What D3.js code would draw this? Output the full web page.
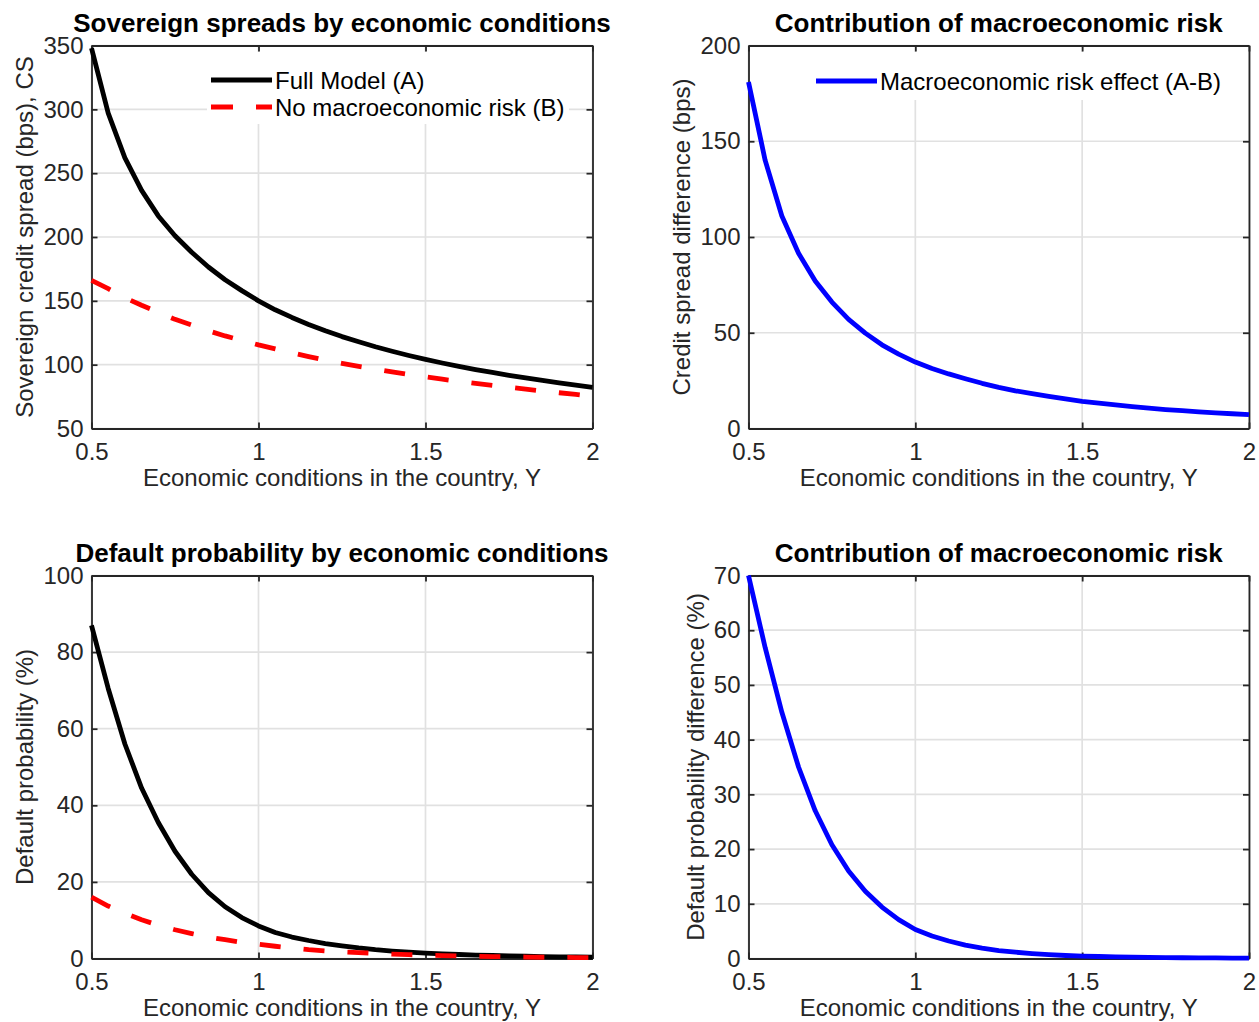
<!DOCTYPE html>
<html>
<head>
<meta charset="utf-8">
<script src="https://cdn.jsdelivr.net/npm/d3@7"></script>
<style>
  html, body { margin: 0; padding: 0; background: #ffffff; }
  svg { display: block; }
  text { font-family: "Liberation Sans", Arial, Helvetica, sans-serif; }
</style>
</head>
<body>
<svg id="chart" width="1259" height="1022"></svg>
<script>
// ---------------- DATA ----------------
const econConditions = [0.50, 0.55, 0.60, 0.65, 0.70, 0.75, 0.80, 0.85, 0.90, 0.95,
                        1.00, 1.05, 1.10, 1.15, 1.20, 1.25, 1.30, 1.35, 1.40, 1.45,
                        1.50, 1.55, 1.60, 1.65, 1.70, 1.75, 1.80, 1.85, 1.90, 1.95, 2.00];

// Sovereign credit spread (bps)
const spreadFullModel = [348, 297, 262, 236.5, 216.5, 201, 188, 176.5, 166.5, 158,
                         150, 143, 137, 131.5, 126.5, 122, 118, 114, 110.5, 107.2,
                         104.2, 101.3, 98.7, 96.2, 93.9, 91.7, 89.6, 87.6, 85.7, 83.9, 82.2];
const spreadNoMacroRisk = [166, 159.5, 152.5, 146.5, 141, 135.5, 131, 126.5, 122.5, 119,
                           115.5, 112.4, 109.3, 106.3, 103.5, 101, 98.6, 96.4, 94.3, 92.3,
                           90.4, 88.6, 86.9, 85.3, 83.8, 82.3, 80.8, 79.4, 78, 76.7, 75.3];
const spreadMacroEffect = [181, 140, 111, 91.5, 77, 66, 57, 49.8, 43.7, 38.8,
                           34.7, 31.3, 28.5, 26, 23.6, 21.5, 19.7, 18.2, 16.8, 15.5,
                           14.2, 13.2, 12.3, 11.4, 10.6, 9.9, 9.3, 8.7, 8.2, 7.7, 7.2];

// Default probability (%)
const pdFullModel = [87, 70.5, 56, 44.5, 35.5, 28, 22, 17.2, 13.5, 10.7,
                     8.5, 6.8, 5.6, 4.7, 3.9, 3.3, 2.75, 2.3, 1.95, 1.65,
                     1.4, 1.2, 1.05, 0.9, 0.8, 0.7, 0.6, 0.5, 0.45, 0.4, 0.35];
const pdNoMacroRisk = [16, 13.7, 11.8, 10.1, 8.7, 7.5, 6.5, 5.6, 4.9, 4.2,
                       3.7, 3.2, 2.75, 2.3, 2.0, 1.75, 1.55, 1.35, 1.15, 1.0,
                       0.88, 0.77, 0.67, 0.58, 0.5, 0.44, 0.38, 0.33, 0.29, 0.25, 0.22];
const pdMacroEffect = [70, 56.8, 45, 35, 27, 20.8, 16, 12.3, 9.4, 7.1,
                       5.3, 4.1, 3.2, 2.45, 1.9, 1.45, 1.15, 0.9, 0.7, 0.55,
                       0.45, 0.37, 0.3, 0.25, 0.2, 0.17, 0.14, 0.12, 0.1, 0.08, 0.07];

// Ticks
const xTicks = [0.5, 1, 1.5, 2];
const spreadTicks = [50, 100, 150, 200, 250, 300, 350];
const spreadDiffTicks = [0, 50, 100, 150, 200];
const pdTicks = [0, 20, 40, 60, 80, 100];
const pdDiffTicks = [0, 10, 20, 30, 40, 50, 60, 70];

// Texts
const panelTitles = ["Sovereign spreads by economic conditions",
                     "Contribution of macroeconomic risk",
                     "Default probability by economic conditions",
                     "Contribution of macroeconomic risk"];
const yLabels = ["Sovereign credit spread (bps), CS",
                 "Credit spread difference (bps)",
                 "Default probability (%)",
                 "Default probability difference (%)"];
const xLabel = "Economic conditions in the country, Y";
const legendFull = "Full Model (A)";
const legendNoMacro = "No macroeconomic risk (B)";
const legendEffect = "Macroeconomic risk effect (A-B)";

// ---------------- STYLE / LAYOUT ----------------
const AX = "#262626";
const GRID = "#e1e1e1";
const FS = 24;
const TITLE_FS = 26;
const LW = 4.8;

const cols = [{l: 91.5, r: 592.5}, {l: 748.5, r: 1249}];
const rows = [{t: 45.5, b: 428.5}, {t: 575.5, b: 958.5}];

const svg = d3.select("#chart");
svg.append("rect").attr("width", 1259).attr("height", 1022).attr("fill", "#fff");

const panels = [
  { col: 0, row: 0, yDomain: [50, 350], yTicks: spreadTicks, title: panelTitles[0], ylabel: yLabels[0], ylabelX: 33,
    series: [ {data: spreadFullModel, color: "#000000", dash: null},
              {data: spreadNoMacroRisk, color: "#ff0000", dash: "21,23"} ],
    legend: { box: [207, 52, 569, 124], items: [
      {label: legendFull, color: "#000000", dash: null, y: 80},
      {label: legendNoMacro, color: "#ff0000", dash: "22,23", y: 107}], lx0: 211, lx1: 272, tx: 275 } },
  { col: 1, row: 0, yDomain: [0, 200], yTicks: spreadDiffTicks, title: panelTitles[1], ylabel: yLabels[1], ylabelX: 690,
    series: [ {data: spreadMacroEffect, color: "#0000ff", dash: null} ],
    legend: { box: [810, 52, 1232, 100], items: [
      {label: legendEffect, color: "#0000ff", dash: null, y: 81}], lx0: 816, lx1: 877, tx: 880 } },
  { col: 0, row: 1, yDomain: [0, 100], yTicks: pdTicks, title: panelTitles[2], ylabel: yLabels[2], ylabelX: 33,
    series: [ {data: pdFullModel, color: "#000000", dash: null},
              {data: pdNoMacroRisk, color: "#ff0000", dash: "21,23"} ], legend: null },
  { col: 1, row: 1, yDomain: [0, 70], yTicks: pdDiffTicks, title: panelTitles[3], ylabel: yLabels[3], ylabelX: 704,
    series: [ {data: pdMacroEffect, color: "#0000ff", dash: null} ], legend: null }
];

panels.forEach(p => {
  const c = cols[p.col], r = rows[p.row];
  const x = d3.scaleLinear().domain([0.5, 2]).range([c.l, c.r]);
  const y = d3.scaleLinear().domain(p.yDomain).range([r.b, r.t]);
  const g = svg.append("g");

  // grid
  g.append("g").selectAll("line").data(xTicks).join("line")
    .attr("x1", d => x(d)).attr("x2", d => x(d)).attr("y1", r.t).attr("y2", r.b)
    .attr("stroke", GRID).attr("stroke-width", 1.7);
  g.append("g").selectAll("line").data(p.yTicks).join("line")
    .attr("x1", c.l).attr("x2", c.r).attr("y1", d => y(d)).attr("y2", d => y(d))
    .attr("stroke", GRID).attr("stroke-width", 1.7);

  // axes
  const styleAxis = sel => {
    sel.select(".domain").attr("stroke", AX).attr("stroke-width", 1.8);
    sel.selectAll(".tick line").attr("stroke", AX).attr("stroke-width", 1.8);
    sel.selectAll(".tick text").attr("fill", AX).attr("font-size", FS)
      .attr("font-family", '"Liberation Sans", Arial, sans-serif');
  };
  g.append("g").attr("transform", `translate(0,${r.b})`)
    .call(d3.axisBottom(x).tickValues(xTicks).tickFormat(d3.format("")).tickSizeInner(-6).tickSizeOuter(0).tickPadding(14))
    .call(styleAxis);
  g.append("g").attr("transform", `translate(0,${r.t})`)
    .call(d3.axisTop(x).tickValues(xTicks).tickFormat("").tickSizeInner(-6).tickSizeOuter(0))
    .call(styleAxis);
  g.append("g").attr("transform", `translate(${c.l},0)`)
    .call(d3.axisLeft(y).tickValues(p.yTicks).tickFormat(d3.format("")).tickSizeInner(-6).tickSizeOuter(0).tickPadding(8))
    .call(styleAxis);
  g.append("g").attr("transform", `translate(${c.r},0)`)
    .call(d3.axisRight(y).tickValues(p.yTicks).tickFormat("").tickSizeInner(-6).tickSizeOuter(0))
    .call(styleAxis);

  // series
  const line = d3.line().x((d, i) => x(econConditions[i])).y(d => y(d));
  p.series.forEach(s => {
    g.append("path").datum(s.data).attr("d", line)
      .attr("fill", "none").attr("stroke", s.color).attr("stroke-width", LW)
      .attr("stroke-linejoin", "round")
      .attr("stroke-dasharray", s.dash);
  });

  // legend
  if (p.legend) {
    const L = p.legend;
    g.append("rect").attr("x", L.box[0]).attr("y", L.box[1])
      .attr("width", L.box[2] - L.box[0]).attr("height", L.box[3] - L.box[1]).attr("fill", "#fff");
    L.items.forEach(it => {
      g.append("line").attr("x1", L.lx0).attr("x2", L.lx1).attr("y1", it.y).attr("y2", it.y)
        .attr("stroke", it.color).attr("stroke-width", LW).attr("stroke-dasharray", it.dash);
      g.append("text").attr("x", L.tx).attr("y", it.y + 8.5).attr("font-size", FS).attr("fill", "#000")
        .text(it.label);
    });
  }

  // title
  g.append("text").attr("x", (c.l + c.r) / 2).attr("y", r.t - 14)
    .attr("text-anchor", "middle").attr("font-size", TITLE_FS).attr("font-weight", "bold").attr("fill", "#000")
    .text(p.title);
  // x label
  g.append("text").attr("x", (c.l + c.r) / 2).attr("y", r.b + 57.5)
    .attr("text-anchor", "middle").attr("font-size", FS).attr("fill", AX).text(xLabel);
  // y label
  g.append("text").attr("transform", `translate(${p.ylabelX},${(r.t + r.b) / 2}) rotate(-90)`)
    .attr("text-anchor", "middle").attr("font-size", FS).attr("fill", AX).text(p.ylabel);
});
</script>
</body>
</html>
